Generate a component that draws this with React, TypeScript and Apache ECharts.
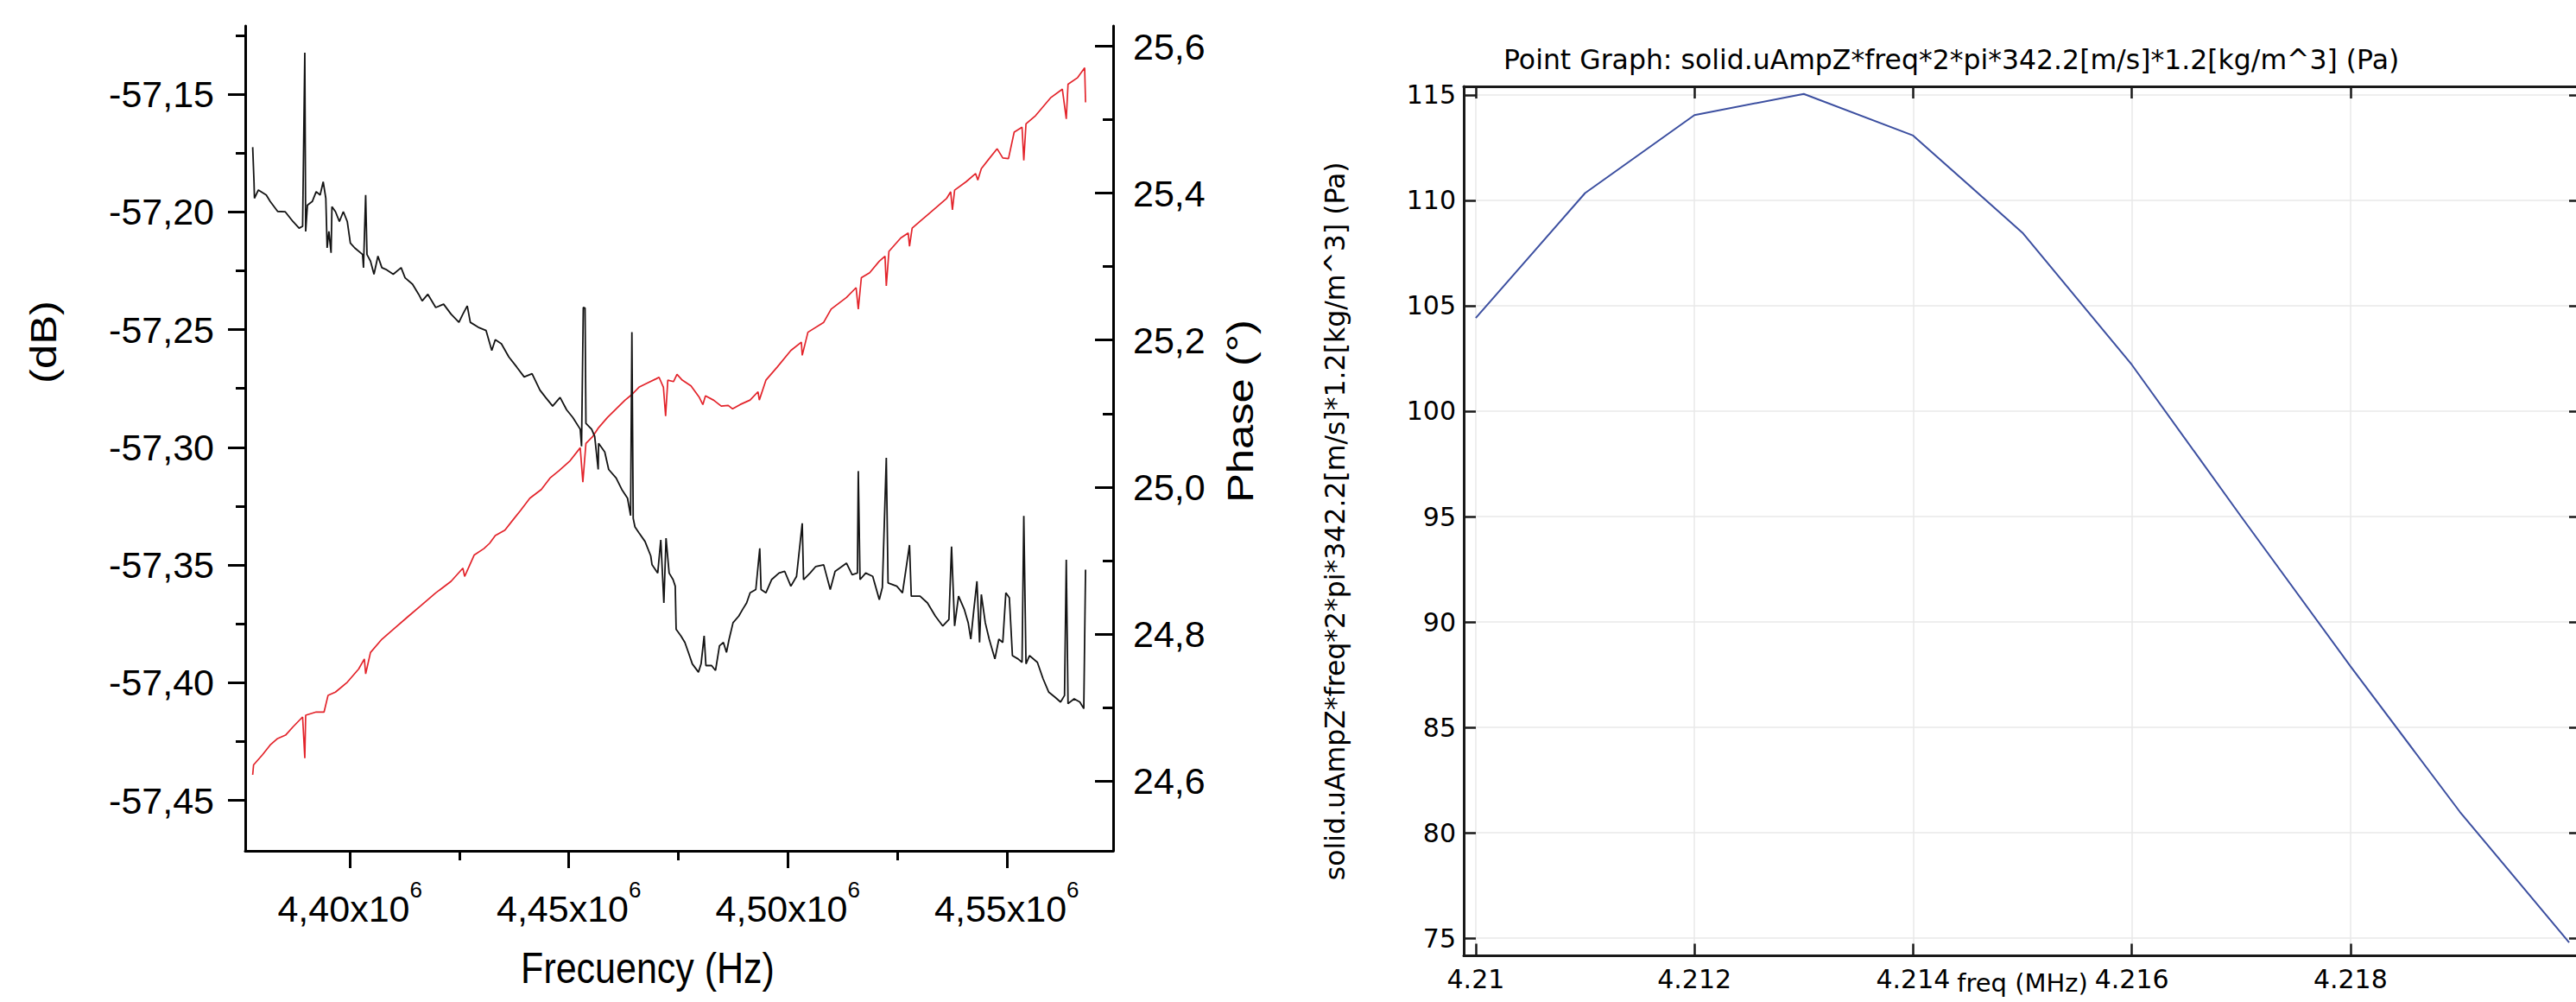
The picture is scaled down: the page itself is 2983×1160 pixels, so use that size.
import { useEffect, useRef } from "react";
import * as echarts from "echarts";

// ---------- Left panel (measured, Origin style) ----------
// [frequency (Hz), level (dB)]
const magnitudeTrace: [number, number][] = [
  [4377800, -57.1725], [4378100, -57.1872], [4378200, -57.1942], [4379100, -57.1907], [4380900, -57.1928],
  [4381800, -57.1956], [4383500, -57.1998], [4385200, -57.1999], [4387000, -57.2041], [4388400, -57.2069],
  [4389200, -57.2061], [4389700, -57.1324], [4389900, -57.2083], [4390300, -57.1971], [4391400, -57.1956],
  [4392300, -57.1914], [4393200, -57.1928], [4393900, -57.1872], [4394500, -57.1942], [4394800, -57.2153],
  [4395200, -57.2083], [4395700, -57.2174], [4395900, -57.1978], [4396700, -57.1999], [4397600, -57.2041],
  [4398500, -57.1999], [4399400, -57.2041], [4400100, -57.2132], [4401100, -57.2153], [4402900, -57.2181],
  [4403100, -57.2237], [4403600, -57.1928], [4403900, -57.2181], [4404700, -57.2209], [4405500, -57.2265],
  [4406400, -57.2188], [4407300, -57.2237], [4408200, -57.2244], [4409900, -57.2265], [4411700, -57.2237],
  [4412600, -57.228], [4414300, -57.2307], [4415700, -57.235], [4416500, -57.2378], [4417800, -57.235],
  [4419600, -57.2406], [4421400, -57.2392], [4423100, -57.2434], [4424900, -57.2469], [4425800, -57.2434],
  [4426800, -57.2399], [4427500, -57.2469], [4429300, -57.249], [4431100, -57.2504], [4432400, -57.2589],
  [4433200, -57.2543], [4434600, -57.256], [4436300, -57.2616], [4438100, -57.2659], [4439800, -57.2701],
  [4441600, -57.2687], [4443400, -57.2757], [4444700, -57.2788], [4446300, -57.2825], [4448000, -57.2788],
  [4449500, -57.2841], [4450900, -57.2873], [4452600, -57.2923], [4452900, -57.2996], [4453300, -57.2406],
  [4453700, -57.2408], [4453900, -57.2898], [4455200, -57.2923], [4455900, -57.2953], [4456700, -57.3094],
  [4456800, -57.2983], [4458200, -57.302], [4459100, -57.3094], [4460800, -57.313], [4462100, -57.3179],
  [4463400, -57.3216], [4464100, -57.329], [4464400, -57.2511], [4464700, -57.3302], [4465100, -57.3338],
  [4466000, -57.3363], [4467400, -57.34], [4468700, -57.3461], [4469000, -57.3499], [4470300, -57.3534],
  [4471000, -57.3393], [4471700, -57.3661], [4472200, -57.3386], [4472900, -57.3534], [4473800, -57.3562],
  [4474300, -57.359], [4474500, -57.3773], [4475600, -57.3801], [4476500, -57.3829], [4477300, -57.3871],
  [4478200, -57.392], [4479600, -57.3955], [4480200, -57.392], [4480900, -57.3801], [4481300, -57.3927],
  [4482600, -57.3927], [4483500, -57.3948], [4484400, -57.3843], [4485300, -57.3829], [4486000, -57.3871],
  [4486600, -57.3815], [4487500, -57.3745], [4488800, -57.3717], [4489700, -57.3688], [4490600, -57.3661],
  [4491400, -57.3618], [4492700, -57.3604], [4493600, -57.3429], [4493900, -57.3604], [4495000, -57.3618],
  [4496300, -57.3562], [4498000, -57.3534], [4499300, -57.3527], [4500700, -57.359], [4502000, -57.3548],
  [4503300, -57.3323], [4503600, -57.3562], [4505100, -57.3534], [4506400, -57.3506], [4508200, -57.3499],
  [4509700, -57.3604], [4510800, -57.3527], [4513400, -57.3492], [4514700, -57.3541], [4515900, -57.3534],
  [4516100, -57.3101], [4516500, -57.3562], [4517800, -57.3534], [4519400, -57.3548], [4520900, -57.3647],
  [4521600, -57.3595], [4522500, -57.3045], [4522900, -57.3576], [4524900, -57.359], [4526200, -57.3618],
  [4527800, -57.3415], [4528200, -57.3632], [4530200, -57.3632], [4531900, -57.3661], [4533700, -57.3717],
  [4535400, -57.3759], [4536800, -57.3731], [4537400, -57.3422], [4538100, -57.3759], [4539000, -57.3632],
  [4540300, -57.3688], [4541200, -57.3745], [4541800, -57.3815], [4542500, -57.3688], [4543200, -57.3569],
  [4543800, -57.3829], [4544200, -57.3625], [4545100, -57.3745], [4546000, -57.3815], [4547300, -57.3899],
  [4548200, -57.3815], [4549100, -57.3829], [4549800, -57.3618], [4550600, -57.3639], [4551300, -57.3885],
  [4552600, -57.3899], [4553500, -57.3913], [4553900, -57.3291], [4554400, -57.392], [4555200, -57.3885],
  [4557000, -57.3913], [4558300, -57.3983], [4559600, -57.404], [4561000, -57.4061], [4562300, -57.4082],
  [4563200, -57.4054], [4563600, -57.3478], [4564000, -57.4089], [4565400, -57.4068], [4566700, -57.4082],
  [4567600, -57.411], [4568000, -57.352],
];

// [frequency (Hz), phase (deg)]
const phaseTrace: [number, number][] = [
  [4377800, 24.6081], [4378000, 24.6216], [4380000, 24.6352], [4381800, 24.6487], [4383500, 24.6576],
  [4385300, 24.6621], [4387000, 24.6734], [4389200, 24.6869], [4389700, 24.6307], [4389900, 24.6892],
  [4392300, 24.6936], [4394100, 24.6936], [4395000, 24.7162], [4396700, 24.7207], [4399400, 24.7342],
  [4402000, 24.7522], [4403300, 24.7658], [4403600, 24.7455], [4404700, 24.7747], [4407300, 24.7927],
  [4409900, 24.8062], [4413400, 24.8242], [4416100, 24.8378], [4419600, 24.8558], [4423100, 24.8715],
  [4425800, 24.8895], [4426200, 24.8782], [4428400, 24.9075], [4430600, 24.9161], [4431900, 24.9233],
  [4433200, 24.9338], [4435400, 24.9413], [4437200, 24.9549], [4439000, 24.9684], [4441100, 24.9847],
  [4443700, 24.9965], [4445700, 25.0122], [4447700, 25.022], [4450300, 25.0358], [4452600, 25.0534],
  [4453200, 25.0067], [4453900, 25.0593], [4455500, 25.0691], [4456800, 25.0808], [4458800, 25.0946],
  [4460800, 25.1064], [4462800, 25.1181], [4464400, 25.1259], [4466000, 25.1358], [4468000, 25.1417],
  [4470000, 25.1475], [4470600, 25.1494], [4471600, 25.1358], [4472100, 25.0965], [4472600, 25.1455],
  [4473900, 25.1435], [4474700, 25.1534], [4475900, 25.1455], [4477900, 25.1376], [4479800, 25.122],
  [4480600, 25.1122], [4481200, 25.124], [4483100, 25.1181], [4484800, 25.1102], [4486400, 25.1111],
  [4487400, 25.1064], [4489100, 25.1122], [4491400, 25.1184], [4493200, 25.1297], [4493500, 25.1184],
  [4495000, 25.1454], [4497600, 25.1634], [4500700, 25.1859], [4503100, 25.1972], [4503300, 25.1792],
  [4504600, 25.2107], [4508200, 25.2242], [4509900, 25.2422], [4513400, 25.258], [4515600, 25.2714],
  [4516100, 25.2422], [4516800, 25.285], [4518700, 25.2918], [4520900, 25.3075], [4522200, 25.3142],
  [4522500, 25.2738], [4523100, 25.3209], [4525800, 25.3391], [4527500, 25.3458], [4527800, 25.3278],
  [4528400, 25.3525], [4531900, 25.3705], [4536300, 25.3931], [4537200, 25.402], [4537600, 25.3773],
  [4538100, 25.4042], [4540700, 25.4155], [4542900, 25.4268], [4543400, 25.4178], [4544200, 25.4335],
  [4546000, 25.4471], [4547800, 25.4606], [4549100, 25.448], [4550400, 25.4471], [4551700, 25.4831],
  [4553500, 25.4899], [4553900, 25.4448], [4554400, 25.4944], [4556600, 25.5057], [4560100, 25.5304],
  [4562700, 25.5417], [4563600, 25.5011], [4564000, 25.5484], [4566200, 25.5574], [4567800, 25.5708],
  [4568000, 25.5237],
];

const hzTicks = [4400000, 4450000, 4500000, 4550000];
const dbTicks = [-57.45, -57.4, -57.35, -57.3, -57.25, -57.2, -57.15];
const phaseTicks = [24.6, 24.8, 25.0, 25.2, 25.4, 25.6];

// ---------- Right panel (COMSOL point graph) ----------
const comsolFreqMHz = [4.21, 4.211, 4.212, 4.213, 4.214, 4.215, 4.216, 4.217, 4.218, 4.219, 4.22];
const comsolPressurePa = [104.42, 110.34, 114.04, 115.04, 113.07, 108.46, 102.2, 95.0, 87.9, 81.0, 74.8];
const comsolFreqTicks = [4.21, 4.212, 4.214, 4.216, 4.218];
const comsolPaTicks = [75, 80, 85, 90, 95, 100, 105, 110, 115];

const ARIAL = "Liberation Sans";
const DEJAVU = "DejaVu Sans";

export default function App() {
  const ref = useRef<HTMLDivElement>(null);

  useEffect(() => {
    if (!ref.current) return;
    const chart = echarts.init(ref.current, null, { renderer: "svg", width: 2983, height: 1160 });

    const black = "#000";
    const frame = "#1a1a1a";

    const option: any = {
      animation: false,
      backgroundColor: "#fff",
      title: {
        text: "Point Graph: solid.uAmpZ*freq*2*pi*342.2[m/s]*1.2[kg/m^3] (Pa)",
        left: 1741,
        top: 53,
        padding: 0,
        textStyle: { fontFamily: DEJAVU, fontSize: 31.5, fontWeight: "normal", color: "#000" },
      },
      grid: [
        { left: 284, top: 30, width: 1005, height: 955, containLabel: false, outerBoundsMode: "none" },
        { left: 1695, top: 100, width: 1294, height: 1006.5, containLabel: false, outerBoundsMode: "none" },
      ],
      xAxis: [
        {
          type: "value",
          gridIndex: 0,
          position: "bottom",
          min: 4376100,
          max: 4574300,
          minInterval: 50000,
          maxInterval: 50000,
          axisLine: { show: true, onZero: false, lineStyle: { color: black, width: 3 } },
          axisTick: { show: true, customValues: hzTicks, length: 20, lineStyle: { color: black, width: 3 } },
          minorTick: { show: true, splitNumber: 2, length: 11, lineStyle: { color: black, width: 3 } },
          splitLine: { show: false },
          axisLabel: {
            customValues: hzTicks,
            margin: 32,
            formatter: (v: number) => `{m|${(v / 1e6).toFixed(2).replace(".", ",")}x10}{s|6}`,
            rich: {
              m: { fontFamily: ARIAL, fontSize: 43, color: "#000", padding: [13, 0, 0, 0] },
              s: { fontFamily: ARIAL, fontSize: 26, color: "#000", verticalAlign: "top" },
            },
          },
        },
        {
          type: "value",
          gridIndex: 1,
          position: "bottom",
          min: 4.20989,
          max: 4.22011,
          minInterval: 0.002,
          maxInterval: 0.002,
          name: "freq (MHz)",
          nameLocation: "middle",
          nameGap: 17,
          nameMoveOverlap: false,
          nameTextStyle: { fontFamily: DEJAVU, fontSize: 29, color: "#000" },
          axisLine: { show: true, onZero: false, lineStyle: { color: frame, width: 3 } },
          axisTick: { show: true, inside: true, customValues: comsolFreqTicks, length: 14, lineStyle: { color: frame, width: 2.5 } },
          splitLine: { show: true, lineStyle: { color: "#e8e8e8", width: 1.5 } },
          axisLabel: {
            customValues: comsolFreqTicks,
            margin: 12,
            fontFamily: DEJAVU,
            fontSize: 30,
            color: "#000",
            formatter: (v: number) => String(Number(v.toFixed(3))),
          },
        },
        {
          type: "value",
          gridIndex: 1,
          position: "top",
          min: 4.20989,
          max: 4.22011,
          minInterval: 0.002,
          maxInterval: 0.002,
          axisLine: { show: true, onZero: false, lineStyle: { color: frame, width: 3 } },
          axisTick: { show: true, inside: true, customValues: comsolFreqTicks, length: 14, lineStyle: { color: frame, width: 2.5 } },
          splitLine: { show: false },
          axisLabel: { show: false },
        },
      ],
      yAxis: [
        {
          type: "value",
          gridIndex: 0,
          position: "left",
          min: -57.4714,
          max: -57.121,
          minInterval: 0.05,
          maxInterval: 0.05,
          axisLine: { show: true, onZero: false, lineStyle: { color: black, width: 3 } },
          axisTick: { show: true, customValues: dbTicks, length: 20, lineStyle: { color: black, width: 3 } },
          minorTick: { show: true, splitNumber: 2, length: 11, lineStyle: { color: black, width: 3 } },
          splitLine: { show: false },
          axisLabel: {
            customValues: dbTicks,
            margin: 36,
            fontFamily: ARIAL,
            fontSize: 43,
            color: "#000",
            formatter: (v: number) => v.toFixed(2).replace(".", ","),
          },
        },
        {
          type: "value",
          gridIndex: 0,
          position: "right",
          min: 24.5046,
          max: 25.6278,
          minInterval: 0.2,
          maxInterval: 0.2,
          axisLine: { show: true, onZero: false, lineStyle: { color: black, width: 3 } },
          axisTick: { show: true, inside: true, customValues: phaseTicks, length: 21, lineStyle: { color: black, width: 3 } },
          minorTick: { show: true, splitNumber: 2, length: 12, lineStyle: { color: black, width: 3 } },
          splitLine: { show: false },
          axisLabel: {
            customValues: phaseTicks,
            margin: 23,
            fontFamily: ARIAL,
            fontSize: 43,
            color: "#000",
            formatter: (v: number) => v.toFixed(1).replace(".", ","),
          },
        },
        {
          type: "value",
          gridIndex: 1,
          position: "left",
          min: 74.17,
          max: 115.4,
          minInterval: 5,
          maxInterval: 5,
          name: "solid.uAmpZ*freq*2*pi*342.2[m/s]*1.2[kg/m^3] (Pa)",
          nameLocation: "middle",
          nameRotate: 90,
          nameGap: 133,
          nameMoveOverlap: false,
          nameTextStyle: { fontFamily: DEJAVU, fontSize: 31.5, color: "#000" },
          axisLine: { show: true, onZero: false, lineStyle: { color: frame, width: 3 } },
          axisTick: { show: true, inside: true, customValues: comsolPaTicks, length: 14, lineStyle: { color: frame, width: 2.5 } },
          splitLine: { show: true, lineStyle: { color: "#e8e8e8", width: 1.5 } },
          axisLabel: { customValues: comsolPaTicks, margin: 9, fontFamily: DEJAVU, fontSize: 30, color: "#000" },
        },
        {
          type: "value",
          gridIndex: 1,
          position: "right",
          min: 74.17,
          max: 115.4,
          minInterval: 5,
          maxInterval: 5,
          axisLine: { show: true, onZero: false, lineStyle: { color: frame, width: 3 } },
          axisTick: { show: true, inside: true, customValues: comsolPaTicks, length: 14, lineStyle: { color: frame, width: 2.5 } },
          splitLine: { show: false },
          axisLabel: { show: false },
        },
      ],
      series: [
        {
          name: "Phase",
          type: "line",
          xAxisIndex: 0,
          yAxisIndex: 1,
          data: phaseTrace,
          showSymbol: false,
          symbol: "none",
          lineStyle: { color: "#e3242b", width: 1.7 },
          z: 2,
        },
        {
          name: "dB",
          type: "line",
          xAxisIndex: 0,
          yAxisIndex: 0,
          data: magnitudeTrace,
          showSymbol: false,
          symbol: "none",
          lineStyle: { color: "#141414", width: 1.8 },
          z: 3,
        },
        {
          name: "Pressure",
          type: "line",
          xAxisIndex: 1,
          yAxisIndex: 2,
          data: comsolFreqMHz.map((f, i) => [f, comsolPressurePa[i]]),
          showSymbol: false,
          symbol: "none",
          lineStyle: { color: "#3c4fa0", width: 2 },
        },
      ],
      graphic: [
        {
          type: "text",
          x: 50,
          y: 396,
          rotation: Math.PI / 2,
          scaleX: 1.18,
          style: { text: "(dB)", fontFamily: ARIAL, fontSize: 43, fill: "#000", align: "center", verticalAlign: "middle", textAlign: "center", textVerticalAlign: "middle" },
        },
        {
          type: "text",
          x: 1436,
          y: 476,
          rotation: Math.PI / 2,
          scaleX: 1.18,
          style: { text: "Phase (°)", fontFamily: ARIAL, fontSize: 43, fill: "#000", align: "center", verticalAlign: "middle", textAlign: "center", textVerticalAlign: "middle" },
        },
        {
          type: "text",
          x: 750,
          y: 1121,
          scaleY: 1.16,
          style: { text: "Frecuency (Hz)", fontFamily: ARIAL, fontSize: 43, fill: "#000", align: "center", verticalAlign: "middle", textAlign: "center", textVerticalAlign: "middle" },
        },
      ],
    };

    chart.setOption(option);
    return () => chart.dispose();
  }, []);

  return (
    <div
      ref={ref}
      style={{ position: "absolute", left: 0, top: 0, width: 2983, height: 1160, background: "#fff" }}
    />
  );
}
